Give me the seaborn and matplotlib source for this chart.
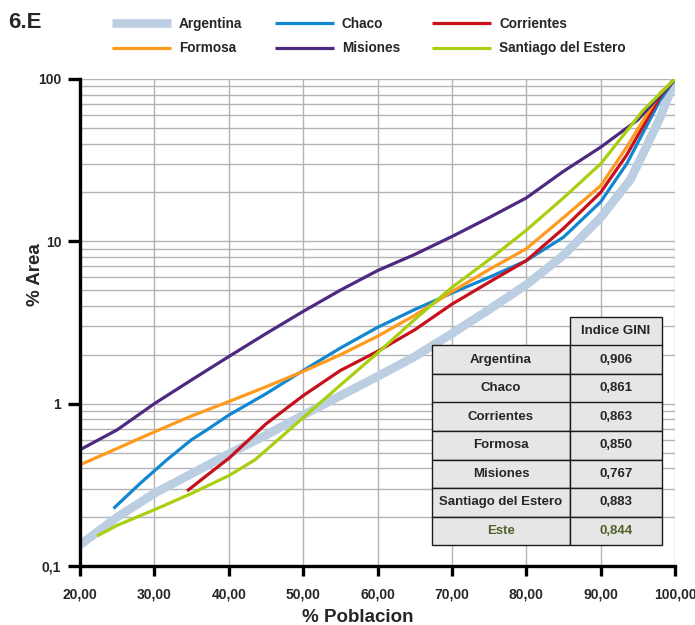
import matplotlib
matplotlib.use("Agg")
import matplotlib.pyplot as plt
from matplotlib import font_manager
from matplotlib.ticker import FixedLocator, LogLocator, NullFormatter
import seaborn as sns
import pandas as pd

# ---------------- data ----------------
arg_x = [20, 25, 30, 35, 40, 45, 50, 55, 60, 65, 70, 75, 80, 85, 90, 94, 96, 98, 99.3, 100]
arg_y = [0.135, 0.2, 0.28, 0.37, 0.49, 0.64, 0.85, 1.12, 1.47, 1.95, 2.7, 3.8, 5.4, 8.2, 14, 24, 37, 58, 82, 100]

cha_x = [24.5, 28, 31.65, 35, 37, 40, 45, 50, 55, 60, 65, 70, 75, 80, 85, 90, 93.5, 98, 100]
cha_y = [0.226, 0.32, 0.45, 0.6, 0.687, 0.85, 1.15, 1.6, 2.2, 2.95, 3.8, 4.8, 6.0, 7.6, 10.6, 17.5, 30, 74, 100]

cor_x = [34.4, 37, 40, 45, 50, 55, 60, 65, 70, 75, 80, 85, 90, 93.5, 98, 100]
cor_y = [0.29, 0.36, 0.46, 0.75, 1.12, 1.6, 2.1, 2.85, 4.1, 5.6, 7.6, 12, 20, 34, 78, 100]

for_x = [20, 25, 30, 35, 40, 45, 50, 55, 60, 65, 70, 75, 80, 85, 90, 93.5, 98, 100]
for_y = [0.42, 0.53, 0.67, 0.84, 1.03, 1.27, 1.58, 2.0, 2.6, 3.5, 4.9, 6.7, 9.0, 14, 22, 38, 82, 100]

mis_x = [20, 25, 30, 35, 40, 45, 50, 55, 60, 65, 70, 75, 80, 85, 90, 95, 100]
mis_y = [0.52, 0.69, 1.0, 1.4, 1.95, 2.7, 3.7, 5.0, 6.6, 8.3, 10.7, 14, 18.5, 27, 38, 56, 100]

san_x = [22.3, 25, 30, 35, 40, 43.5, 47, 50, 55, 60, 65, 70, 75, 80, 85, 90, 95.7, 100]
san_y = [0.153, 0.178, 0.222, 0.28, 0.36, 0.45, 0.62, 0.82, 1.3, 2.05, 3.3, 5.2, 7.7, 11.7, 18.5, 30, 64, 100]

names = ["Argentina", "Chaco", "Corrientes", "Formosa", "Misiones", "Santiago del Estero"]
gini_rows = ["Argentina", "Chaco", "Corrientes", "Formosa", "Misiones", "Santiago del Estero", "Este"]
gini_vals = ["0,906", "0,861", "0,863", "0,850", "0,767", "0,883", "0,844"]

x_ticks = [20, 30, 40, 50, 60, 70, 80, 90, 100]
y_ticks = [0.1, 1, 10, 100]
y_labels = ["0,1", "1", "10", "100"]

# ---------------- style ----------------
sns.set_style("white")
avail = {f.name for f in font_manager.fontManager.ttflist}
narrow = "Liberation Sans Narrow" if "Liberation Sans Narrow" in avail else "Liberation Sans"
plt.rcParams["font.family"] = [narrow, "DejaVu Sans"]

colors = {
    "Argentina": "#bccfe2",
    "Chaco": "#1187d1",
    "Corrientes": "#c8101d",
    "Formosa": "#ff9a1e",
    "Misiones": "#4c2a80",
    "Santiago del Estero": "#a8cf12",
}
widths = {"Argentina": 6.3, "Chaco": 2.3, "Corrientes": 2.3, "Formosa": 2.3,
          "Misiones": 2.3, "Santiago del Estero": 2.3}

series = {
    "Argentina": (arg_x, arg_y),
    "Chaco": (cha_x, cha_y),
    "Corrientes": (cor_x, cor_y),
    "Formosa": (for_x, for_y),
    "Misiones": (mis_x, mis_y),
    "Santiago del Estero": (san_x, san_y),
}

fig = plt.figure(figsize=(6.95, 6.25), dpi=100)
ax = fig.add_axes([80 / 695, 1 - 566 / 625, 595 / 695, 487 / 625])

handles = {}
for n in names:
    xs, ys = series[n]
    df = pd.DataFrame({"x": xs, "y": ys})
    sns.lineplot(data=df, x="x", y="y", ax=ax, color=colors[n], linewidth=widths[n],
                 estimator=None, sort=False, label=n, solid_capstyle="butt",
                 solid_joinstyle="round")
    handles[n] = ax.get_lines()[-1]
ax.get_legend().remove()

ax.set_yscale("log")
ax.set_xlim(20, 100)
ax.set_ylim(0.1, 100)

ax.xaxis.set_major_locator(FixedLocator(x_ticks))
ax.set_xticklabels([f"{v:.2f}".replace(".", ",") for v in x_ticks])
ax.yaxis.set_major_locator(FixedLocator(y_ticks))
ax.set_yticklabels(y_labels)
ax.yaxis.set_minor_locator(LogLocator(base=10, subs=range(2, 10)))
ax.yaxis.set_minor_formatter(NullFormatter())

ax.grid(True, which="major", color="#b3b3b3", linewidth=1.0)
ax.grid(True, which="minor", axis="y", color="#b3b3b3", linewidth=1.0)
ax.set_axisbelow(True)

for s in ["top", "right"]:
    ax.spines[s].set_visible(False)
for s in ["left", "bottom"]:
    ax.spines[s].set_color("black")
    ax.spines[s].set_linewidth(2.4)

ax.tick_params(axis="x", which="major", direction="out", length=7.5, width=2.4,
               color="black", labelsize=10, pad=8, bottom=True)
ax.tick_params(axis="y", which="major", direction="out", length=8.5, width=2.4,
               color="black", labelsize=10, pad=5, left=True)
ax.tick_params(axis="y", which="minor", length=0)
for lab in ax.get_xticklabels() + ax.get_yticklabels():
    lab.set_fontweight("bold")

ax.set_xlabel("% Poblacion", fontsize=13.5, fontweight="bold")
ax.set_ylabel("% Area", fontsize=13.5, fontweight="bold")
ax.xaxis.set_label_coords((358 - 80) / 595, (566 - 609) / 487)
ax.yaxis.set_label_coords((44 - 80) / 595, (566 - 275) / 487)

fig.text(8 / 695, 1 - 22 / 625, "6.E", fontsize=16, fontweight="bold", va="center", ha="left")

order = ["Argentina", "Formosa", "Chaco", "Misiones", "Corrientes", "Santiago del Estero"]
leg = fig.legend([handles[n] for n in order], order, ncol=3, loc="upper left",
                 bbox_to_anchor=(100 / 695, 1 - 5 / 625), frameon=False,
                 prop={"family": narrow, "weight": "bold", "size": 9.8},
                 handlelength=4.3, handletextpad=0.6, columnspacing=2.4, labelspacing=0.75)

# ---------------- table ----------------
cell_text = [["", "Indice GINI"]] + [[r, v] for r, v in zip(gini_rows, gini_vals)]
tbl = ax.table(cellText=cell_text, colWidths=[0.6, 0.4],
               bbox=[(432 - 80) / 595, (566 - 545) / 487, (662 - 432) / 595, (545 - 317) / 487],
               cellLoc="center", zorder=5)
tbl.auto_set_font_size(False)
for (r, c), cell in tbl.get_celld().items():
    cell.set_facecolor("#e6e6e6")
    cell.set_edgecolor("#1a1a1a")
    cell.set_linewidth(1.0)
    t = cell.get_text()
    t.set_fontsize(9.5)
    t.set_fontweight("bold")
    t.set_fontfamily(["Liberation Sans", "DejaVu Sans"])
    if r == 0 and c == 0:
        cell.set_facecolor("none")
        cell.set_edgecolor("none")
    if r == len(cell_text) - 1:
        t.set_color("#4f6228")

fig.savefig("out.png", dpi=100)
